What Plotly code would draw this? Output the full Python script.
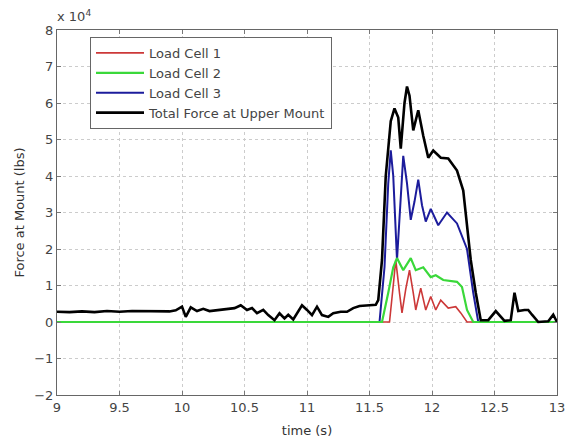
import plotly.graph_objects as go

# Forces in units of 10^4 lbs, time in seconds
t_total = [9.00, 9.10, 9.20, 9.30, 9.40, 9.50, 9.60, 9.70, 9.80, 9.90, 9.95, 10.00, 10.03, 10.07,
           10.12, 10.17, 10.22, 10.28, 10.35, 10.42, 10.47, 10.52, 10.56, 10.60, 10.65, 10.69,
           10.74, 10.78, 10.82, 10.85, 10.89, 10.96, 11.00, 11.04, 11.08, 11.12, 11.17, 11.21,
           11.27, 11.32, 11.37, 11.42, 11.50, 11.55, 11.57, 11.60, 11.63, 11.67, 11.70, 11.73,
           11.75, 11.78, 11.80, 11.82, 11.85, 11.89, 11.93, 11.97, 12.01, 12.07, 12.13, 12.20,
           12.25, 12.31, 12.35, 12.39, 12.45, 12.51, 12.58, 12.63, 12.66, 12.69, 12.74, 12.77,
           12.80, 12.85, 12.93, 12.97, 13.00]
f_total = [0.28, 0.27, 0.29, 0.27, 0.30, 0.28, 0.30, 0.29, 0.28, 0.29, 0.32, 0.42, 0.14, 0.40,
           0.30, 0.36, 0.30, 0.33, 0.35, 0.38, 0.46, 0.33, 0.38, 0.24, 0.33, 0.19,
           0.05, 0.24, 0.10, 0.20, 0.07, 0.46, 0.33, 0.19, 0.42, 0.19, 0.14, 0.24,
           0.28, 0.28, 0.38, 0.44, 0.46, 0.47, 0.60, 1.70, 4.00, 5.50, 5.85, 5.60,
           4.75, 6.00, 6.45, 6.20, 5.25, 5.80, 5.10, 4.50, 4.70, 4.50, 4.48, 4.15,
           3.60, 1.70, 0.80, 0.05, 0.05, 0.30, 0.03, 0.05, 0.80, 0.30, 0.33, 0.33,
           0.20, 0.00, 0.02, 0.20, 0.00]

t_cell1 = [9.00, 11.66, 11.69, 11.71, 11.74, 11.76, 11.79, 11.82, 11.85, 11.87, 11.91, 11.95,
           11.99, 12.03, 12.07, 12.13, 12.19, 12.23, 12.28, 13.00]
f_cell1 = [0.00, 0.00, 1.00, 1.70, 0.80, 0.25, 0.90, 1.42, 0.80, 0.33, 0.93, 0.33,
           0.70, 0.33, 0.60, 0.38, 0.42, 0.25, 0.00, 0.00]

t_cell2 = [9.00, 11.60, 11.65, 11.69, 11.72, 11.77, 11.83, 11.87, 11.93, 11.99, 12.03, 12.09,
           12.20, 12.24, 12.28, 12.33, 13.00]
f_cell2 = [0.00, 0.00, 0.80, 1.50, 1.75, 1.42, 1.75, 1.42, 1.50, 1.23, 1.28, 1.15,
           1.10, 0.96, 0.33, 0.00, 0.00]

t_cell3 = [9.00, 11.58, 11.62, 11.65, 11.67, 11.69, 11.72, 11.75, 11.77, 11.80, 11.83, 11.86,
           11.89, 11.92, 11.95, 11.99, 12.05, 12.12, 12.20, 12.28, 12.33, 12.37, 13.00]
f_cell3 = [0.00, 0.00, 1.50, 3.80, 4.70, 4.00, 1.70, 3.50, 4.55, 3.80, 2.80, 3.30,
           3.90, 3.20, 2.75, 3.10, 2.65, 3.00, 2.70, 2.00, 0.80, 0.00, 0.00]

x_ticks = [9, 9.5, 10, 10.5, 11, 11.5, 12, 12.5, 13]
x_tick_labels = ["9", "9.5", "10", "10.5", "11", "11.5", "12", "12.5", "13"]
y_ticks = [-2, -1, 0, 1, 2, 3, 4, 5, 6, 7, 8]

names = ["Load Cell 1", "Load Cell 2", "Load Cell 3", "Total Force at Upper Mount"]

FONT = "DejaVu Sans, Liberation Sans, Arial"

fig = go.Figure()
fig.add_trace(go.Scatter(x=t_cell3, y=f_cell3, mode="lines", name=names[2], legendrank=3,
                         line=dict(color="#1c1c9c", width=2)))
fig.add_trace(go.Scatter(x=t_cell1, y=f_cell1, mode="lines", name=names[0], legendrank=1,
                         line=dict(color="#cc3838", width=1.6)))
fig.add_trace(go.Scatter(x=t_cell2, y=f_cell2, mode="lines", name=names[1], legendrank=2,
                         line=dict(color="#3ad83a", width=2.2)))
fig.add_trace(go.Scatter(x=t_total, y=f_total, mode="lines", name=names[3], legendrank=4,
                         line=dict(color="#000000", width=2.6)))

axis_common = dict(showline=True, linecolor="#666666", linewidth=1, mirror="ticks",
                   ticks="inside", ticklen=4, tickcolor="#777777",
                   showgrid=True, gridcolor="#cccccc", griddash="dot", gridwidth=1,
                   zeroline=False, automargin=False,
                   tickfont=dict(family=FONT, size=13, color="#444444"))

fig.update_xaxes(range=[9, 13], tickvals=x_ticks, ticktext=x_tick_labels,
                 title=dict(text="time (s)", font=dict(family=FONT, size=13, color="#333333"),
                            standoff=12),
                 **axis_common)
fig.update_yaxes(range=[-2, 8], tickvals=y_ticks,
                 title=dict(text="Force at Mount (lbs)", font=dict(family=FONT, size=13, color="#333333"),
                            standoff=6),
                 **axis_common)

fig.add_annotation(text="x 10<sup>4</sup>", xref="paper", yref="paper", x=-0.004, y=1.012,
                   xanchor="left", yanchor="bottom", showarrow=False,
                   font=dict(family=FONT, size=13, color="#444444"))

fig.update_layout(
    width=573, height=445,
    margin=dict(l=57, r=16, t=30, b=50),
    paper_bgcolor="white", plot_bgcolor="white",
    font=dict(family=FONT, size=13, color="#444444"),
    legend=dict(x=0.066, y=0.981, xanchor="left", yanchor="top",
                bgcolor="white", bordercolor="#666666", borderwidth=1,
                font=dict(family=FONT, size=13, color="#444444"), tracegroupgap=0,
                itemwidth=48),
    showlegend=True,
)

fig.write_html("out.html", config={"displayModeBar": False},
               post_script="document.body.style.margin='0';")
